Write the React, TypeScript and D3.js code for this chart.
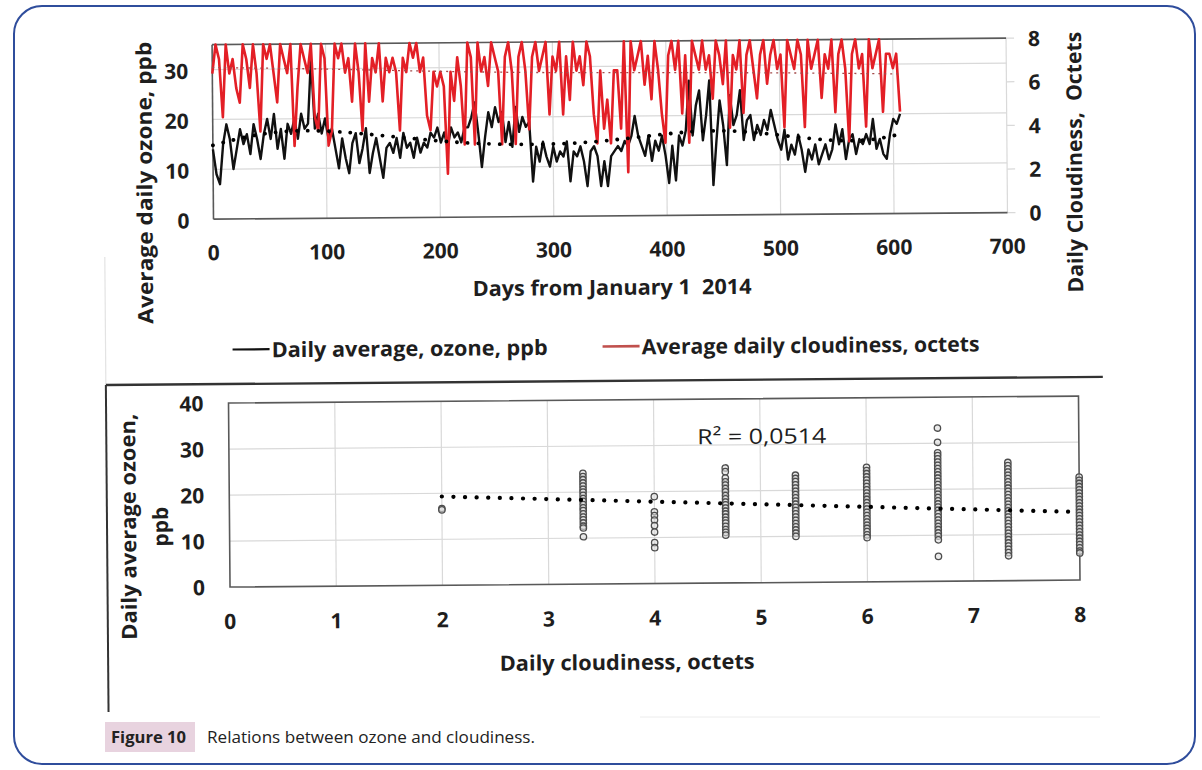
import React from 'react';
import * as d3 from 'd3';

// ---------- top chart data (every 3rd day from Jan 1 2014) ----------
const DAY_STEP = 3;
const ozoneDaily = [
  14, 9, 7, 15, 19, 16, 10, 14, 18, 15, 17, 13, 19, 16, 12, 17, 20, 16, 21, 14, 18, 12, 19,
  17, 20, 16, 21, 18, 19, 32, 18, 21, 17, 20, 16, 18, 14, 10, 16, 12, 9, 15,
  17, 11, 14, 18, 9, 13, 16, 12, 8, 14, 15, 13, 16, 12, 17, 14, 15, 12, 16, 13, 15, 14, 17,
  16, 18, 15, 17, 14, 18, 16, 17, 15, 18, 18, 20, 23, 17, 10, 16, 21, 18, 22, 19,
  21, 15, 19, 14, 22, 17, 20, 18, 19, 7, 14, 11, 15, 12, 10, 14, 11, 13, 12, 15, 7,
  13, 12, 14, 11, 6, 13, 14, 12, 6, 11, 6, 12, 13, 14, 13, 15, 14, 16, 20, 16,
  14, 12, 16, 11, 15, 13, 16, 12, 6.5, 14, 7, 16, 14, 17,
  27, 16, 22, 25, 15, 20, 27, 6, 15, 23, 18, 10, 24, 18, 20, 25, 15, 19,
  20, 15, 18, 16, 19, 17, 21, 18, 15, 13, 17, 11, 14, 12, 16, 13, 8.5,
  13, 11, 14, 10, 12, 14, 11, 13, 18, 14, 17, 11, 15, 16, 12, 15, 14, 16, 14, 19,
  13, 15, 12, 11, 16, 19, 18, 20,
];
const cloudDaily = [
  6.67, 8, 7.33, 4.67, 8, 6.67, 7.33, 6, 5.33, 8,
  7.33, 6, 8, 6.67, 4, 8, 7.33, 8, 6.67, 5.33,
  8, 7.33, 6.67, 8, 3.33, 6, 8, 7.33, 6.67, 8,
  4.67, 4, 8, 7.33, 3.33, 4, 8, 7.33, 8, 6.67,
  7.33, 5.33, 8, 6.67, 4, 8, 5.33, 7.33, 6.67, 8,
  5.33, 7.33, 6.67, 7.33, 6.67, 4, 7.33, 6.67, 8, 7.33,
  8, 6.67, 7.33, 4.67, 4, 6.67, 6, 6.67, 6, 2,
  6.67, 5.33, 7.33, 6, 3.33, 8, 7.33, 3.33, 8, 6.67,
  7.33, 6, 8, 7.33, 6.67, 3.33, 7.33, 8, 6.67, 3.33,
  7.33, 8, 6.67, 4, 7.33, 8, 6.67, 7.33, 8, 4.67,
  7.33, 6.67, 8, 4.67, 7.33, 5.33, 8, 6.67, 7.33, 6,
  8, 7.33, 4.67, 3.33, 6.67, 4, 5.33, 3.33, 6.67, 6.67,
  4, 8, 2, 8, 6.67, 7.33, 8, 6, 7.33, 5.33,
  8, 6.67, 4.67, 3.33, 7.33, 8, 6.67, 8, 4.67, 7.33,
  3.33, 8, 7.33, 6.67, 8, 6.67, 7.33, 5.33, 8, 7.33,
  6, 8, 4, 7.33, 6.67, 8, 4.67, 7.33, 8, 6.67,
  5.33, 7.33, 8, 6, 7.33, 8, 6.67, 7.33, 4, 8,
  7.33, 6.67, 8, 7.33, 4, 8, 6.67, 7.33, 8, 5.33,
  7.33, 6.67, 8, 4.67, 7.33, 8, 6.67, 3.33, 7.33, 8,
  6.67, 7.33, 4, 8, 6.67, 7.33, 8, 4.67, 7.33, 7.33,
  6.67, 7.33, 4.67,
];
const ozoneTrendDays = [0, 25, 50, 80, 110, 150, 190, 230, 280, 325, 370, 420, 460, 505, 550, 585, 607];
const ozoneTrendValues = [14.8, 16.3, 17.3, 17.7, 17.4, 16.5, 15.5, 14.7, 14.4, 14.6, 15.6, 16.9, 17.0, 15.8, 14.5, 14.8, 16.0];
const cloudTrendDays = [0, 100, 250, 400, 500, 607];
const cloudTrendValues = [6.95, 6.85, 6.6, 6.55, 6.5, 6.4];
const dayTicks = [0, 100, 200, 300, 400, 500, 600, 700];
const ozoneTicks = [0, 10, 20, 30];
const cloudTicks = [0, 2, 4, 6, 8];

// ---------- bottom chart data ----------
const cloudClasses = [2, 3.33, 4, 4.67, 5.33, 6, 6.67, 7.33, 8];
const ozoneAt2 = [16.7, 16.4];
const ozoneAt333 = [24.1, 23.4, 22.7, 22, 21.3, 20.6, 20, 19.3, 18.6, 18, 17.3, 16.6, 16, 15.3, 14.6, 14, 13.3, 12.6, 12.2, 10.3];
const ozoneAt4 = [18.9, 15.6, 14.8, 13.8, 12.6, 11.2, 8.9, 7.8];
const ozoneAt467 = [25, 24.2, 22.8, 22, 21.3, 20.5, 19.8, 19, 18.3, 17.6, 17, 16.3, 15.6, 15, 14.3, 13.6, 13, 12.3, 11.6, 11, 10.4];
const ozoneAt533 = [23.3, 22.6, 21.9, 21.2, 20.5, 19.8, 19.1, 18.4, 17.7, 17, 16.3, 15.6, 14.9, 14.2, 13.5, 12.8, 12.1, 11.4, 10.7, 10];
const ozoneAt6 = [24.9, 24.2, 23.5, 22.8, 22.1, 21.4, 20.7, 20, 19.3, 18.6, 17.9, 17.2, 16.5, 15.8, 15.1, 14.4, 13.7, 13, 12.3, 11.6, 10.9, 10.2, 9.6];
const ozoneAt667 = [33.3, 30.2, 27.9, 27.3, 26.6, 25.9, 25.2, 24.5, 23.8, 23.1, 22.4, 21.7, 21, 20.3, 19.6, 18.9, 18.2, 17.5, 16.8, 16.1, 15.4, 14.7, 14, 13.3, 12.6, 11.9, 11.2, 10.5, 9.8, 9, 5.4];
const ozoneAt733 = [25.7, 25, 24.3, 23.6, 22.9, 22.2, 21.5, 20.8, 20.1, 19.4, 18.7, 18, 17.3, 16.6, 15.9, 15.2, 14.5, 13.8, 13.1, 12.4, 11.7, 11, 10.3, 9.6, 8.9, 8.2, 7.5, 6.8, 6.1, 5.4];
const ozoneAt8 = [22.4, 21.7, 21, 20.3, 19.6, 18.9, 18.2, 17.5, 16.8, 16.1, 15.4, 14.7, 14, 13.3, 12.6, 11.9, 11.2, 10.5, 9.8, 9.1, 8.4, 7.7, 7, 6.3, 5.9];
const ozoneByClass = [ozoneAt2, ozoneAt333, ozoneAt4, ozoneAt467, ozoneAt533, ozoneAt6, ozoneAt667, ozoneAt733, ozoneAt8];
const fitX = [2, 8];
const fitY = [19.3, 14.8];
const rSquaredLabel = 'R² = 0,0514';
const scatterXTicks = [0, 1, 2, 3, 4, 5, 6, 7, 8];
const scatterYTicks = [0, 10, 20, 30, 40];

const T = { left: 215, right: 1009, top: 41.5, bottom: 216 };
const B = { left: 228.5, right: 1078.5, top: 400, bottom: 584 };
const FONT = "'Open Sans', 'Noto Sans', sans-serif";
const TXT = '#1e1e1e';
const GRID = '#d9d9d9';
const AXIS = '#595959';
const fit = { lengthAdjust: 'spacingAndGlyphs' as const };

export default function App() {
  const xDay = d3.scaleLinear().domain([0, 700]).range([T.left, T.right]);
  const yOz = d3.scaleLinear().domain([0, 35]).range([T.bottom, T.top]);
  const yCl = d3.scaleLinear().domain([0, 8]).range([T.bottom, T.top]);
  const xC = d3.scaleLinear().domain([0, 8]).range([B.left, B.right]);
  const yO = d3.scaleLinear().domain([0, 40]).range([B.bottom, B.top]);

  const ozPath = d3.line<number>().x((_, i) => xDay(i * DAY_STEP)).y((d) => yOz(d))(ozoneDaily) || '';
  const clPath = d3.line<number>().x((_, i) => xDay(i * DAY_STEP)).y((d) => yCl(d))(cloudDaily) || '';
  const ozTrend = d3.line<number>().curve(d3.curveBasis).x((_, i) => xDay(ozoneTrendDays[i])).y((d) => yOz(d))(ozoneTrendValues) || '';
  const clTrend = d3.line<number>().curve(d3.curveBasis).x((_, i) => xDay(cloudTrendDays[i])).y((d) => yCl(d))(cloudTrendValues) || '';
  const fitPath = d3.line<number>().x((_, i) => xC(fitX[i])).y((d) => yO(d))(fitY) || '';

  return (
    <svg width={1202} height={770} style={{ position: 'absolute', left: 0, top: 0, display: 'block' }} fontFamily={FONT}>
      <rect x={0} y={0} width={1202} height={770} fill="#fff" />
      <rect x={14} y={6} width={1181} height={758} rx={28} fill="none" stroke="#2f4d9c" strokeWidth={2} />

      <g transform="rotate(-0.47 600 400)">
        {/* ================= TOP CHART ================= */}
        {dayTicks.slice(1).map((d) => (
          <line key={'vg' + d} x1={xDay(d)} x2={xDay(d)} y1={T.top} y2={T.bottom} stroke={GRID} strokeWidth={1.2} />
        ))}
        {ozoneTicks.slice(1).map((v) => (
          <line key={'hg' + v} x1={T.left} x2={T.right} y1={yOz(v)} y2={yOz(v)} stroke={GRID} strokeWidth={1.2} />
        ))}
        {cloudTicks.map((v) => (
          <line key={'rt' + v} x1={T.right} x2={T.right + 8} y1={yCl(v)} y2={yCl(v)} stroke={GRID} strokeWidth={1.2} />
        ))}
        <line x1={T.left} x2={T.right} y1={T.top} y2={T.top} stroke={AXIS} strokeWidth={1.6} />
        <line x1={T.left} x2={T.right} y1={T.bottom} y2={T.bottom} stroke={AXIS} strokeWidth={1.6} />
        <line x1={T.left} x2={T.left} y1={T.top} y2={T.bottom} stroke={AXIS} strokeWidth={1.6} />

        <path d={ozPath} fill="none" stroke="#111" strokeWidth={2.4} strokeLinejoin="round" />
        <path d={clPath} fill="none" stroke="#e31f26" strokeWidth={2.6} strokeLinejoin="round" />
        <path d={clTrend} fill="none" stroke="#a34a4a" strokeWidth={1.3} strokeDasharray="2 4" />
        <path d={ozTrend} fill="none" stroke="#000" strokeWidth={3.8} strokeDasharray="0.1 10.6" strokeLinecap="round" />

        {ozoneTicks.map((v) => (
          <text key={'yl' + v} x={T.left - 24} y={yOz(v) + 1} textAnchor="end" dominantBaseline="central" fontSize={21} fontWeight={700} fill={TXT}>{v}</text>
        ))}
        {cloudTicks.map((v) => (
          <text key={'yr' + v} x={T.right + 22} y={yCl(v)} textAnchor="start" dominantBaseline="central" fontSize={21} fontWeight={700} fill={TXT}>{v}</text>
        ))}
        {dayTicks.map((d) => (
          <text key={'xl' + d} x={xDay(d)} y={T.bottom + 33} textAnchor="middle" dominantBaseline="central" fontSize={21} fontWeight={700} fill={TXT}>{d}</text>
        ))}
        <text x={613} y={287} textAnchor="middle" dominantBaseline="central" fontSize={21} fontWeight={700} fill={TXT} style={{ whiteSpace: 'pre' }} textLength={279} {...fit}>{'Days from January 1  2014'}</text>
        <text transform="translate(154,179) rotate(-90)" textAnchor="middle" fontSize={21} fontWeight={700} fill={TXT} textLength={282} {...fit}>Average daily ozone, ppb</text>
        <text transform="translate(1084,166) rotate(-90)" textAnchor="middle" fontSize={21} fontWeight={700} fill={TXT} style={{ whiteSpace: 'pre' }} textLength={261} {...fit}>{'Daily Cloudiness,  Octets'}</text>

        {/* legend */}
        <line x1={233} x2={270} y1={346.5} y2={346.5} stroke="#111" strokeWidth={2.2} />
        <text x={272} y={346.5} dominantBaseline="central" fontSize={21} fontWeight={700} fill={TXT} textLength={276} {...fit}>Daily average, ozone, ppb</text>
        <line x1={603} x2={640} y1={346.5} y2={346.5} stroke="#c0504d" strokeWidth={2.6} />
        <text x={642} y={346.5} dominantBaseline="central" fontSize={21} fontWeight={700} fill={TXT} textLength={338} {...fit}>Average daily cloudiness, octets</text>

        {/* separators */}
        <line x1={106} x2={106} y1={253} y2={380} stroke="#e3e3e3" strokeWidth={1.2} />
        <line x1={106} x2={1103} y1={381} y2={381} stroke="#333" strokeWidth={2.4} />
        <line x1={106} x2={106} y1={381} y2={708} stroke="#333" strokeWidth={2} />

        {/* ================= BOTTOM CHART ================= */}
        {scatterXTicks.slice(1, -1).map((c) => (
          <line key={'bvg' + c} x1={xC(c)} x2={xC(c)} y1={B.top} y2={B.bottom} stroke={GRID} strokeWidth={1.2} />
        ))}
        {scatterYTicks.slice(1, -1).map((v) => (
          <line key={'bhg' + v} x1={B.left} x2={B.right} y1={yO(v)} y2={yO(v)} stroke={GRID} strokeWidth={1.2} />
        ))}
        <rect x={B.left} y={B.top} width={B.right - B.left} height={B.bottom - B.top} fill="none" stroke={AXIS} strokeWidth={1.6} />

        {ozoneByClass.map((col, ci) =>
          col.map((v, j) => (
            <circle key={'p' + ci + '_' + j} cx={xC(cloudClasses[ci])} cy={yO(v)} r={3.2} fill="#dcdcdc" fillOpacity={0.6} stroke="#4d4d4d" strokeWidth={1.3} />
          ))
        )}
        <path d={fitPath} fill="none" stroke="#000" strokeWidth={4.2} strokeDasharray="0.1 11.5" strokeLinecap="round" />
        <text x={697} y={437} dominantBaseline="central" fontSize={21} fontWeight={400} fill={TXT} textLength={129} {...fit}>{rSquaredLabel}</text>

        {scatterYTicks.map((v) => (
          <text key={'byl' + v} x={B.left - 25} y={yO(v)} textAnchor="end" dominantBaseline="central" fontSize={21} fontWeight={700} fill={TXT}>{v}</text>
        ))}
        {scatterXTicks.map((c) => (
          <text key={'bxl' + c} x={xC(c)} y={B.bottom + 34} textAnchor="middle" dominantBaseline="central" fontSize={21} fontWeight={700} fill={TXT}>{c}</text>
        ))}
        <text x={625} y={662} textAnchor="middle" dominantBaseline="central" fontSize={21} fontWeight={700} fill={TXT} textLength={255} {...fit}>Daily cloudiness, octets</text>
        <text transform="translate(135,523) rotate(-90)" textAnchor="middle" fontSize={21} fontWeight={700} fill={TXT} textLength={226} {...fit}>Daily average ozoen,</text>
        <text transform="translate(167,523) rotate(-90)" textAnchor="middle" fontSize={21} fontWeight={700} fill={TXT}>ppb</text>
      </g>

      <line x1={640} x2={1100} y1={717} y2={717} stroke="#ececec" strokeWidth={1} />

      {/* caption */}
      <rect x={105} y={722} width={90} height={30} fill="#e8d3df" />
      <text x={111} y={737} dominantBaseline="central" fontSize={16} fontWeight={700} fill="#222" textLength={75} {...fit}>Figure 10</text>
      <text x={207} y={737} dominantBaseline="central" fontSize={16} fontWeight={400} fill="#222" textLength={328} {...fit}>Relations between ozone and cloudiness.</text>
    </svg>
  );
}
